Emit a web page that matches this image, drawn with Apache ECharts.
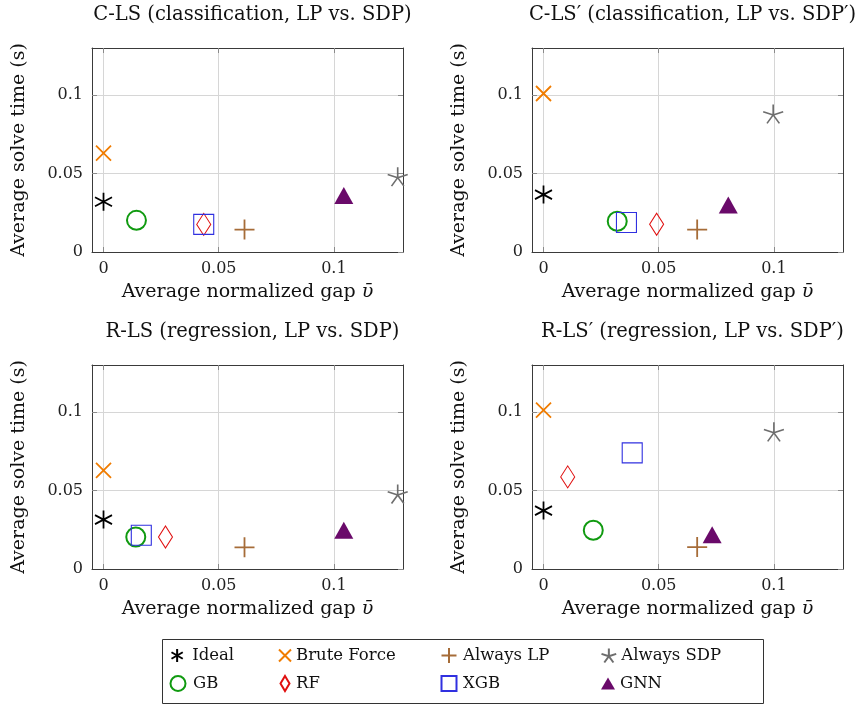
<!DOCTYPE html>
<html lang="en">
<head>
<meta charset="UTF-8">
<title>Average solve time vs. normalized gap</title>
<script src="https://cdn.jsdelivr.net/npm/echarts@6/dist/echarts.min.js"></script>
<style>
html, body { margin: 0; padding: 0; background: #fff; }
#chart { width: 858px; height: 706px; }
</style>
</head>
<body>
<div id="chart"></div>
<script>
// methods, same order in every panel
var methods = ['Ideal', 'Brute Force', 'Always LP', 'Always SDP', 'GB', 'RF', 'XGB', 'GNN'];
var panelTitles = [
	'C-LS (classification, LP vs. SDP)',
	'C-LS\u2032 (classification, LP vs. SDP\u2032)',
	'R-LS (regression, LP vs. SDP)',
	'R-LS\u2032 (regression, LP vs. SDP\u2032)'
];
// [average normalized gap, average solve time] per method
var clsPoints  = [[0, 0.032], [0, 0.063], [0.0612, 0.0143], [0.1277, 0.048], [0.0143, 0.0202], [0.0435, 0.0176], [0.0435, 0.0176], [0.1043, 0.036]];
var clsPPoints = [[0, 0.0366], [0, 0.101], [0.0667, 0.0143], [0.0997, 0.088], [0.032, 0.0196], [0.0491, 0.0177], [0.036, 0.0188], [0.0802, 0.030]];
var rlsPoints  = [[0, 0.0315], [0, 0.0628], [0.0612, 0.0138], [0.1277, 0.0478], [0.014, 0.0204], [0.0269, 0.0204], [0.0164, 0.0215], [0.1043, 0.0247]];
var rlsPPoints = [[0, 0.0372], [0, 0.1012], [0.0667, 0.014], [0.1, 0.0874], [0.0216, 0.0247], [0.0105, 0.0587], [0.0385, 0.074], [0.0732, 0.0219]];
var panels = [clsPoints, clsPPoints, rlsPoints, rlsPPoints];
var xTicks = [0, 0.05, 0.1];
var yTicks = [0, 0.05, 0.1];

var FONT = 'DejaVu Serif';
var colors = ['#000000', '#f07c00', '#a66c38', '#6e6e6e', '#109a10', '#e01010', '#3030e0', '#6a0a6a'];
var symbols = [
	'path://M0,-10L0,10M8.66,-5L-8.66,5M8.66,5L-8.66,-5',
	'path://M0,0L10,10M10,0L0,10',
	'path://M5,0L5,10M0,5L10,5',
	'path://M0,0L0,-10M0,0L9.51,-3.09M0,0L5.88,8.09M0,0L-5.88,8.09M0,0L-9.51,-3.09M0,8.09',
	'circle', 'diamond', 'rect', 'triangle'
];
var sizes = [[17, 18], 15, 20, [20, 19], 19, [14, 22], 20, [19, 17]];
var strokeW = [1.8, 1.8, 1.8, 1.6, 2, 1.1, 1.1, 0];
var filled = [false, false, false, false, false, false, false, true];

// panel frames
var grids = [
	{ left: 92, top: 48, width: 311, height: 204 },
	{ left: 532, top: 48, width: 311, height: 204 },
	{ left: 92, top: 365, width: 311, height: 204 },
	{ left: 532, top: 365, width: 311, height: 204 }
];

function frameAxis(i, pos, ticks, isX, z) {
	return {
		gridIndex: i, type: 'value', position: pos, z: z,
		min: isX ? -0.005 : 0, max: 0.13,
		axisLine: { show: true, onZero: false, lineStyle: { color: '#3a3a3a', width: 1 } },
		axisTick: { show: true, inside: true, length: 5, customValues: ticks, lineStyle: { color: '#8a8a8a' } },
		axisLabel: { show: false }, splitLine: { show: false }
	};
}

var xAxes = [], yAxes = [], series = [], titles = [];
grids.forEach(function (g, i) {
	titles.push({
		text: panelTitles[i], left: g.left + g.width / 2, top: g.top - 48, textAlign: 'center',
		textStyle: { fontFamily: FONT, fontSize: 19.5, fontWeight: 'normal', color: '#111' }
	});
	var xb = frameAxis(i, 'bottom', xTicks, true, 1);
	xb.axisLabel = { customValues: xTicks, fontFamily: FONT, fontSize: 16, color: '#222', margin: 9 };
	xb.splitLine = { show: true, lineStyle: { color: '#d6d6d6', width: 1 } };
	xb.name = 'Average normalized gap {v|\u1FE1}';
	xb.nameLocation = 'middle';
	xb.nameGap = 31;
	xb.nameTextStyle = { fontFamily: FONT, fontSize: 19, color: '#111', verticalAlign: 'top',
		rich: { v: { fontFamily: FONT, fontSize: 19, fontStyle: 'italic', color: '#111' } } };
	xAxes.push(xb, frameAxis(i, 'top', xTicks, true, 2));

	var yl = frameAxis(i, 'left', yTicks, false, 0);
	yl.axisLabel = { customValues: yTicks, fontFamily: FONT, fontSize: 16, color: '#222', margin: 9 };
	yl.splitLine = { show: true, lineStyle: { color: '#d6d6d6', width: 1 } };
	yl.name = 'Average solve time (s)';
	yl.nameLocation = 'middle';
	yl.nameGap = 63;
	yl.nameRotate = 90;
	yl.nameTextStyle = { fontFamily: FONT, fontSize: 19, color: '#111' };
	yAxes.push(yl, frameAxis(i, 'right', yTicks, false, 2));

	methods.forEach(function (m, k) {
		series.push({
			name: m, type: 'scatter', xAxisIndex: 2 * i, yAxisIndex: 2 * i, z: 3,
			symbol: symbols[k], symbolSize: sizes[k],
			itemStyle: filled[k]
				? { color: colors[k], opacity: 1 }
				: { color: 'transparent', borderColor: colors[k], borderWidth: strokeW[k], opacity: 1 },
			emphasis: { disabled: true },
			data: [panels[i][k]]
		});
	});
});

// legend: 2 rows x 4 columns inside a framed box
var legCx = [177, 284, 448, 608];
var legTx = [192, 295, 462, 619];
var legRowY = [657, 685];
var legIcon = [[13, 13], [12, 12], [15, 15], [15, 14], [15, 15], [9, 15], [15, 15], [14, 12]];
var legends = methods.map(function (m, k) {
	var col = k % 4, row = Math.floor(k / 4);
	var w = legIcon[k][0], h = legIcon[k][1];
	return {
		data: [m], left: legCx[col] - w / 2, top: legRowY[row] - 10, padding: 0,
		itemWidth: w, itemHeight: h, selectedMode: false,
		textStyle: { fontFamily: FONT, fontSize: 16.5, color: '#111',
			padding: [0, 0, 0, Math.max(0, legTx[col] - (legCx[col] + w / 2 + 5))] }
	};
});

var chart = echarts.init(document.getElementById('chart'));
chart.setOption({
	animation: false,
	backgroundColor: '#fff',
	title: titles,
	grid: grids,
	xAxis: xAxes,
	yAxis: yAxes,
	legend: legends,
	graphic: [{
		type: 'rect', shape: { x: 162.5, y: 639.5, width: 601, height: 64 },
		style: { fill: 'none', stroke: '#333', lineWidth: 1 }, silent: true
	}],
	series: series
});
</script>
</body>
</html>
